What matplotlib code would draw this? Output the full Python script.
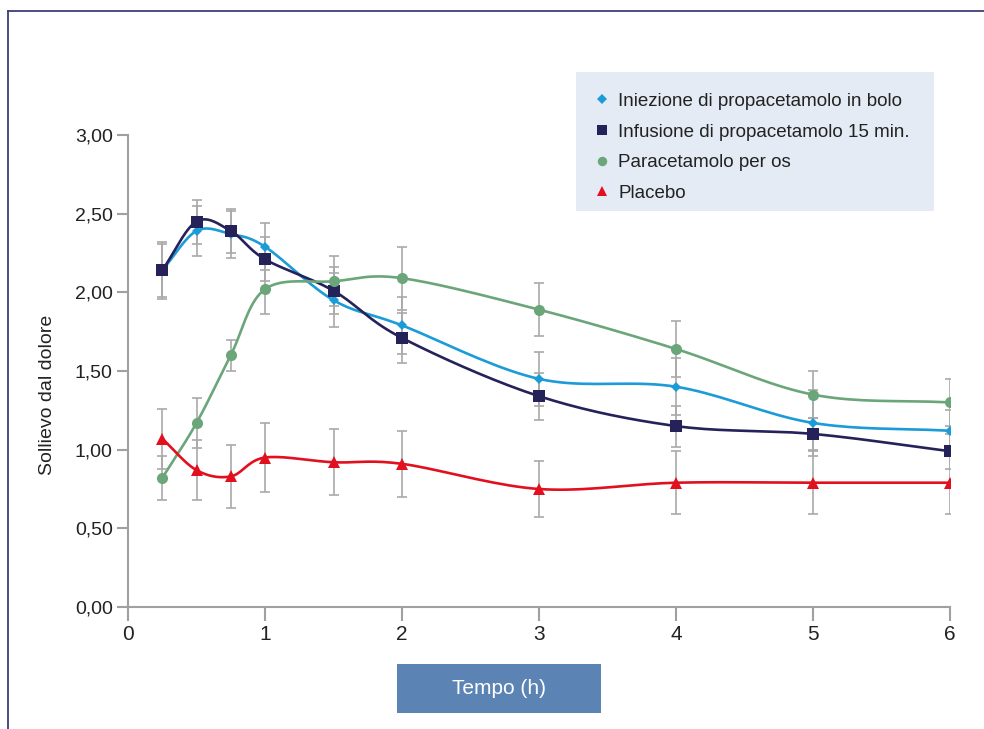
import numpy as np
import matplotlib
matplotlib.use("Agg")
import matplotlib.pyplot as plt
from matplotlib.patches import Rectangle
from matplotlib.lines import Line2D

plt.rcParams['font.family'] = ['Liberation Sans Narrow', 'Liberation Sans', 'DejaVu Sans']

# --- dati ---
tempo = [0.25, 0.5, 0.75, 1, 1.5, 2, 3, 4, 5, 6]

bolo = [2.14, 2.39, 2.37, 2.29, 1.95, 1.79, 1.45, 1.40, 1.17, 1.12]
bolo_err = [0.17, 0.16, 0.15, 0.15, 0.17, 0.18, 0.17, 0.18, 0.21, 0.13]

infusione = [2.14, 2.45, 2.39, 2.21, 2.01, 1.71, 1.34, 1.15, 1.10, 0.99]
infusione_err = [0.18, 0.14, 0.14, 0.14, 0.15, 0.16, 0.15, 0.13, 0.10, 0.11]

orale = [0.82, 1.17, 1.60, 2.02, 2.07, 2.09, 1.89, 1.64, 1.35, 1.30]
orale_err = [0.14, 0.16, 0.10, 0.16, 0.16, 0.20, 0.17, 0.18, 0.15, 0.15]

placebo = [1.07, 0.87, 0.83, 0.95, 0.92, 0.91, 0.75, 0.79, 0.79, 0.79]
placebo_err = [0.19, 0.19, 0.20, 0.22, 0.21, 0.21, 0.18, 0.20, 0.20, 0.20]

etichette = ["Iniezione di propacetamolo in bolo",
             "Infusione di propacetamolo 15 min.",
             "Paracetamolo per os",
             "Placebo"]


def smooth(x, y, n=20):
    # curva Catmull-Rom tipo "linea smussata" di Excel
    x = np.asarray(x, float)
    y = np.asarray(y, float)
    px = np.concatenate([[2 * x[0] - x[1]], x, [2 * x[-1] - x[-2]]])
    py = np.concatenate([[2 * y[0] - y[1]], y, [2 * y[-1] - y[-2]]])
    xs, ys = [], []
    t = np.linspace(0, 1, n)
    for i in range(1, len(px) - 2):
        for p, out in ((px, xs), (py, ys)):
            p0, p1, p2, p3 = p[i - 1], p[i], p[i + 1], p[i + 2]
            out.append(0.5 * ((2 * p1) + (-p0 + p2) * t
                              + (2 * p0 - 5 * p1 + 4 * p2 - p3) * t ** 2
                              + (-p0 + 3 * p1 - 3 * p2 + p3) * t ** 3))
    return np.concatenate(xs), np.concatenate(ys)


fig = plt.figure(figsize=(9.84, 7.29), dpi=100)
ax = fig.add_axes([128 / 984, 1 - 607 / 729, 822 / 984, 472 / 729])

serie = [
    (bolo, bolo_err, '#1b9bd7', 'D', 5.5),
    (infusione, infusione_err, '#25225a', 's', 9),
    (orale, orale_err, '#6ba57a', 'o', 8),
    (placebo, placebo_err, '#e2101e', '^', 8),
]

for vals, err, col, mk, ms in serie:
    sx, sy = smooth(tempo, vals)
    ax.plot(sx, sy, color=col, lw=1.9, zorder=3, solid_capstyle='round')
    ax.errorbar(tempo, vals, yerr=err, fmt='none', ecolor='#a9a9a9',
                elinewidth=1.2, capsize=3.5, capthick=1.2, zorder=4)
    ax.plot(tempo, vals, linestyle='none', marker=mk, ms=ms, color=col,
            markeredgewidth=0, zorder=5)

ax.set_xlim(0, 6)
ax.set_ylim(0, 3)
ax.set_xticks(range(7))
ax.set_yticks(np.arange(0, 3.01, 0.5))
ax.set_yticklabels([f"{v:.2f}".replace('.', ',') for v in np.arange(0, 3.01, 0.5)])
for s in ('top', 'right'):
    ax.spines[s].set_visible(False)
for s in ('left', 'bottom'):
    ax.spines[s].set_color('#a0a0a0')
    ax.spines[s].set_linewidth(1.5)
ax.tick_params(axis='y', direction='out', length=8, width=1.5, color='#a0a0a0',
               labelsize=14, labelcolor='#222222', pad=3)
ax.tick_params(axis='x', direction='out', length=10, width=1.5, color='#a0a0a0',
               labelsize=15, labelcolor='#222222', pad=3)
ax.set_ylabel("Sollievo dal dolore", fontsize=14, color='#222222')
ax.yaxis.set_label_coords(-0.088, 0.449)

# legenda
fig.patches.append(Rectangle((576 / 984, 1 - 211 / 729), 358 / 984, 139 / 729,
                             transform=fig.transFigure, facecolor='#e4ebf4',
                             edgecolor='none', zorder=0))
handles = [Line2D([], [], linestyle='none', marker=mk, ms=ms * 0.85, color=col,
                  markeredgewidth=0) for _, _, col, mk, ms in serie]
fig.legend(handles, etichette, loc='upper left',
           bbox_to_anchor=(574 / 984, 1 - 76 / 729), frameon=False,
           fontsize=13.5, handletextpad=0.25, labelspacing=0.72, handlelength=1.2,
           labelcolor='#222222')

# box asse x
fig.patches.append(Rectangle((397 / 984, 1 - 713 / 729), 204 / 984, 49 / 729,
                             transform=fig.transFigure, facecolor='#5b84b5',
                             edgecolor='none'))
fig.text(499 / 984, 1 - 689 / 729, "Tempo (h)", color='white', fontsize=15,
         ha='center', va='center')

# cornice
fig.add_artist(Line2D([8 / 984, 8 / 984], [0, 1 - 11 / 729], color='#3b3f7c',
                      lw=1.3, transform=fig.transFigure))
fig.add_artist(Line2D([8 / 984, 1], [1 - 11 / 729, 1 - 11 / 729], color='#3b3f7c',
                      lw=1.3, transform=fig.transFigure))

fig.savefig("out.png", dpi=100)
